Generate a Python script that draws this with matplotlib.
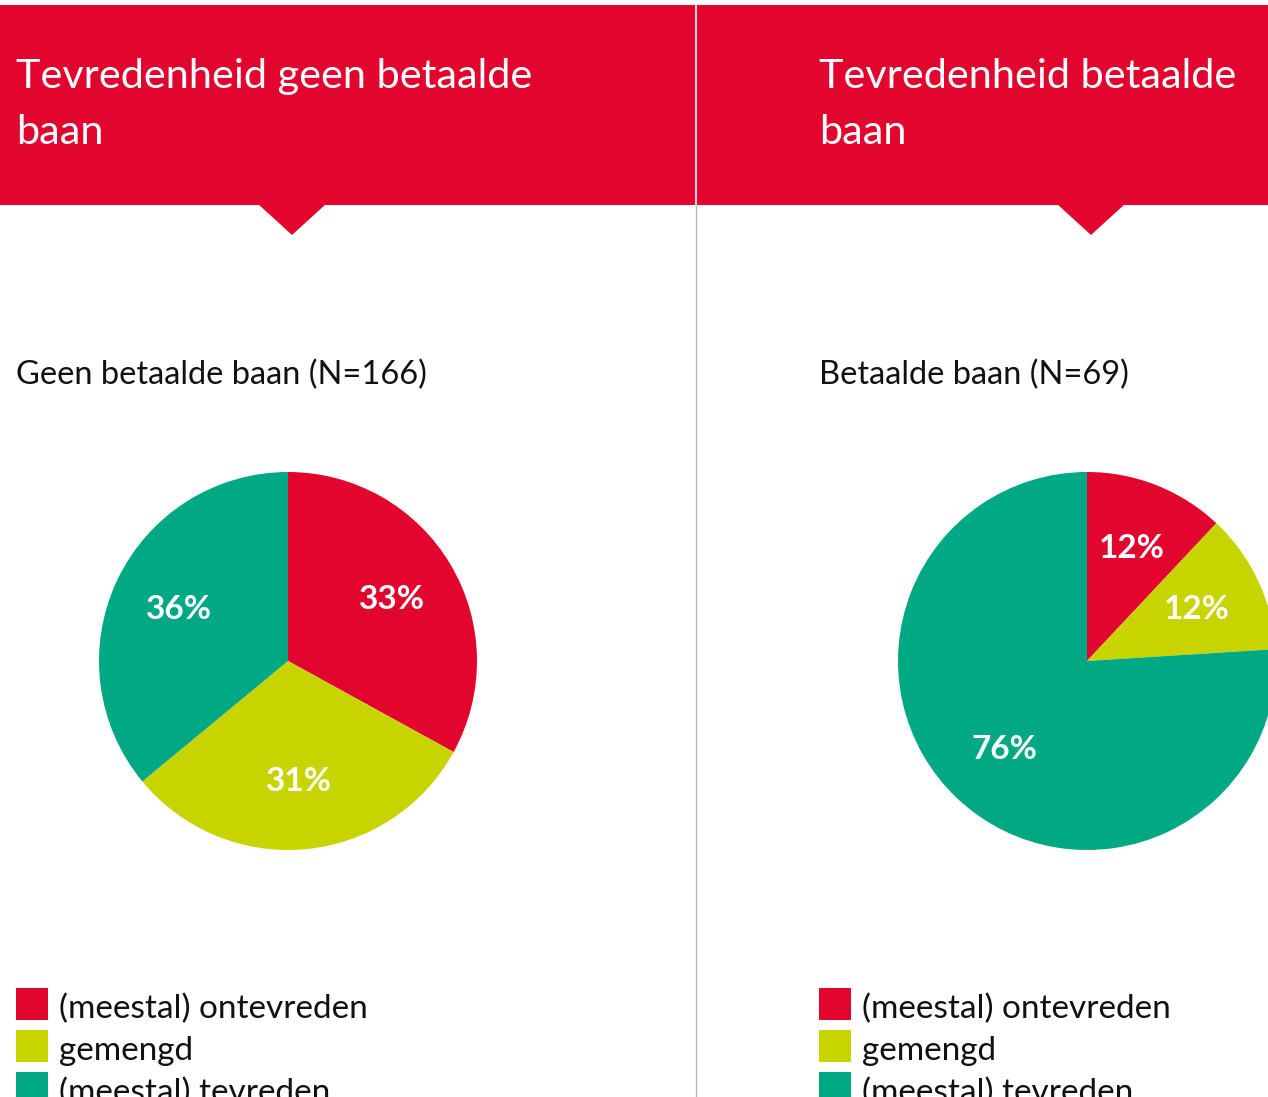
import matplotlib
matplotlib.use('Agg')
import matplotlib.pyplot as plt
from matplotlib.patches import Rectangle, Polygon

plt.rcParams['font.family'] = ['Lato', 'DejaVu Sans']

# data
categories = ['(meestal) ontevreden', 'gemengd', '(meestal) tevreden']
colors = ['#E2062F', '#C8D400', '#00A984']
titles = ['Tevredenheid geen betaalde\nbaan', 'Tevredenheid betaalde\nbaan']
subtitles = ['Geen betaalde baan (N=166)', 'Betaalde baan (N=69)']
geen_baan = [33, 31, 36]
betaalde_baan = [12, 12, 76]

W, H = 1268, 1097
fig = plt.figure(figsize=(W / 100, H / 100), dpi=100)
fig.patch.set_facecolor('white')

# background layer in pixel coordinates
bg = fig.add_axes([0, 0, 1, 1])
bg.set_xlim(0, W)
bg.set_ylim(H, 0)
bg.axis('off')

red = colors[0]
bg.add_patch(Rectangle((0, 5), W, 200, color=red, lw=0))
notch_x = [292, 1091]
for nx in notch_x:
    bg.add_patch(Polygon([(nx - 34, 204), (nx + 34, 204), (nx, 235)], closed=True, color=red, lw=0))
bg.plot([695.5, 695.5], [5, 205], color='white', lw=1.2)
bg.plot([695.5, 695.5], [205, H], color='#b5b5b5', lw=1)

text_x = [16, 819]
for i in range(2):
    tx = text_x[i]
    line1, line2 = titles[i].split('\n')
    bg.text(tx, 88, line1, color='white', fontsize=29.8, va='baseline', ha='left')
    bg.text(tx, 144, line2, color='white', fontsize=29.8, va='baseline', ha='left')
    bg.text(tx, 384, subtitles[i], color='#111111', fontsize=23.5, va='baseline', ha='left')
    for k, (cat, col) in enumerate(zip(categories, colors)):
        y0 = 988 + k * 42
        bg.add_patch(Rectangle((tx, y0), 32, 32, color=col, lw=0))
        bg.text(tx + 43, y0 + 21, cat, color='#111111', fontsize=24, va='center', ha='left')

# pies
centers = [(288, 661), (1087, 661)]
radius = 189
for (cx, cy), vals in zip(centers, [geen_baan, betaalde_baan]):
    ax = fig.add_axes([(cx - radius) / W, (H - cy - radius) / H, 2 * radius / W, 2 * radius / H])
    wedges, texts, autotexts = ax.pie(vals, colors=colors, startangle=90, counterclock=False,
                                      autopct='%d%%', pctdistance=0.64,
                                      wedgeprops=dict(linewidth=0),
                                      textprops=dict(color='white', fontsize=24, fontweight='bold'))
    ax.set_xlim(-1, 1)
    ax.set_ylim(-1, 1)
    ax.axis('off')

fig.savefig('out.png', dpi=100, facecolor='white')
